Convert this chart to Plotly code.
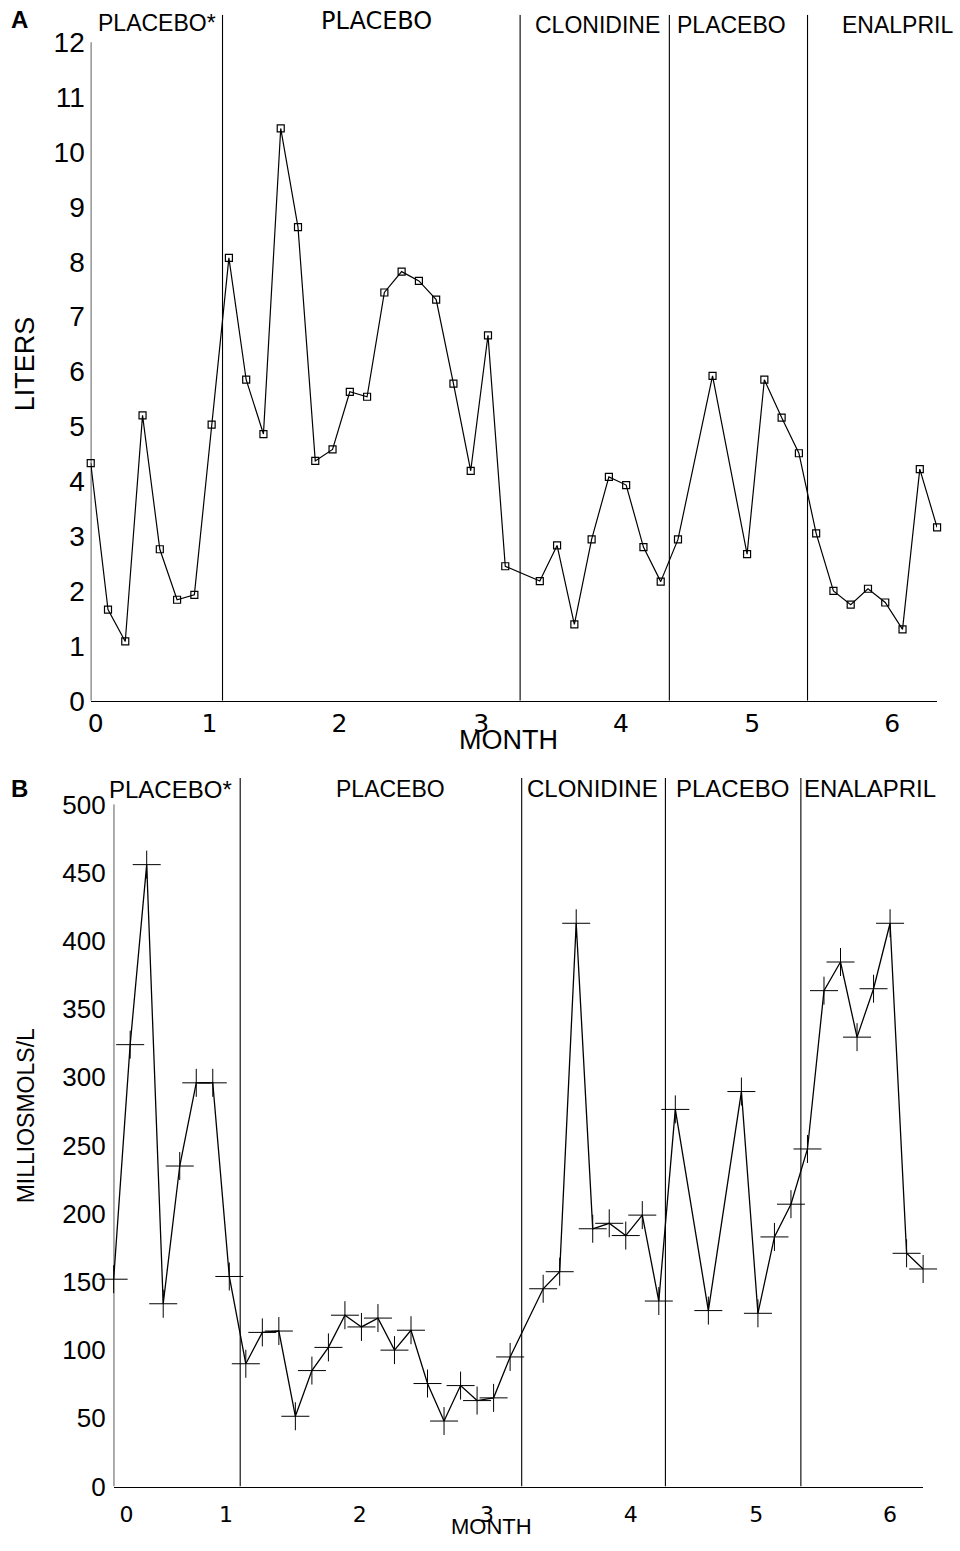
import plotly.graph_objects as go

# ---------------- data ----------------
# sample index along the time axis (a few sampling slots were skipped)
sample_slot = [0, 1, 2, 3, 4, 5, 6, 7, 8, 9, 10, 11, 12, 13, 14, 15, 16, 17, 18, 19, 20, 21, 22, 23, 24,
               26, 27, 28, 29, 30, 31, 32, 33, 34,
               36,
               38, 39, 40, 41, 42, 43, 44, 45, 46, 47, 48, 49]

liters = [4.33, 1.66, 1.08, 5.2, 2.76, 1.84, 1.93, 5.03, 8.07, 5.85, 4.86, 10.43, 8.63, 4.37, 4.58, 5.63,
          5.54, 7.44, 7.82, 7.65, 7.31, 5.78, 4.19, 6.66, 2.45,
          2.18, 2.83, 1.39, 2.94, 4.08, 3.93, 2.8, 2.17, 2.94,
          5.92,
          2.67, 5.85, 5.16, 4.51, 3.05, 2.0, 1.75, 2.04, 1.79, 1.3, 4.22, 3.16]

milliosmols = [152, 324, 456, 134, 235, 296, 296, 154, 90, 113, 114, 51.5, 85, 102, 125.6, 117, 123.5,
               100, 114.6, 75.5, 48, 74, 63, 65, 95,
               145, 157.5, 413, 189, 193, 184, 199, 136, 276.5,
               129,
               289.6, 127, 183, 207, 247.5, 363.6, 384.6, 329.5, 365, 413, 171, 159.5]

# treatment period boundaries (in sample-slot units)
bounds_a = [7.63, 24.86, 33.5, 41.5]
bounds_b = [7.66, 24.7, 33.4, 41.6]

periods_a = ["PLACEBO*", "PLACEBO", "CLONIDINE", "PLACEBO", "ENALPRIL"]
periods_b = ["PLACEBO*", "PLACEBO", "CLONIDINE", "PLACEBO", "ENALAPRIL"]

month_labels = ["0", "1", "2", "3", "4", "5", "6"]
month_pos_a = [0.29, 6.87, 14.4, 22.6, 30.7, 38.3, 46.4]
month_pos_b = [0.78, 6.8, 14.9, 22.6, 31.3, 38.9, 47.0]

liters_ticks = list(range(0, 13))
osm_ticks = [0, 50, 100, 150, 200, 250, 300, 350, 400, 450, 500]

# ---------------- layout helpers ----------------
W, H = 960, 1551


def fx(px):
    return px / W


def fy(py):
    return 1 - py / H


SANS = "Liberation Sans, Arial, sans-serif"
WIDE = "DejaVu Sans, sans-serif"

fig = go.Figure()

fig.add_trace(go.Scatter(
    x=sample_slot, y=liters, mode="lines+markers",
    line=dict(color="black", width=1.2),
    marker=dict(symbol="square-open", size=7, color="black", line=dict(width=1.2)),
    cliponaxis=False, xaxis="x", yaxis="y", showlegend=False))

fig.add_trace(go.Scatter(
    x=sample_slot, y=milliosmols, mode="lines+markers",
    line=dict(color="black", width=1.3),
    marker=dict(symbol="cross-thin", size=20, color="black", line=dict(width=1, color="black")),
    cliponaxis=False, xaxis="x2", yaxis="y2", showlegend=False))

fig.update_layout(
    width=W, height=H, margin=dict(l=0, r=0, t=0, b=0),
    paper_bgcolor="white", plot_bgcolor="white",
    xaxis=dict(domain=[fx(88), fx(937)], range=[0, 49], anchor="y",
               showgrid=False, zeroline=False, showline=True, linecolor="black", linewidth=1.3,
               ticks="", tickmode="array", tickvals=month_pos_a, ticktext=month_labels,
               tickfont=dict(family=WIDE, size=25, color="black"), ticklabelstandoff=0),
    yaxis=dict(domain=[fy(708), fy(15)], range=[0, 12.5], anchor="x",
               showgrid=False, zeroline=False, showline=False,
               ticks="", tickmode="array", tickvals=liters_ticks,
               tickfont=dict(family=SANS, size=28, color="black"), ticklabelstandoff=5),
    xaxis2=dict(domain=[fx(111), fx(923)], range=[0, 49], anchor="y2",
                showgrid=False, zeroline=False, showline=True, linecolor="black", linewidth=1.3,
                ticks="", tickmode="array", tickvals=month_pos_b, ticktext=month_labels,
                tickfont=dict(family=WIDE, size=22, color="black"), ticklabelstandoff=8),
    yaxis2=dict(domain=[fy(1502), fy(786)], range=[0, 519.6], anchor="x2",
                showgrid=False, zeroline=False, showline=False,
                ticks="", tickmode="array", tickvals=osm_ticks,
                tickfont=dict(family=SANS, size=26, color="black"), ticklabelstandoff=7),
)

shapes = []
# left axis lines (only up to the top tick)
shapes.append(dict(type="line", xref="x", yref="y", x0=0, x1=0, y0=0, y1=12,
                   line=dict(color="black", width=1.3)))
shapes.append(dict(type="line", xref="x2", yref="y2", x0=0, x1=0, y0=0, y1=500,
                   line=dict(color="black", width=1.3)))
for b in bounds_a:
    shapes.append(dict(type="line", xref="x", yref="y", x0=b, x1=b, y0=0, y1=12.5,
                       line=dict(color="black", width=1.1)))
for b in bounds_b:
    shapes.append(dict(type="line", xref="x2", yref="y2", x0=b, x1=b, y0=0, y1=519.6,
                       line=dict(color="black", width=1.1)))
fig.update_layout(shapes=shapes)

ann = []


def text(x, y, s, size, family=SANS, xanchor="center", angle=0, bold=False):
    ann.append(dict(x=fx(x), y=fy(y), xref="paper", yref="paper", text=("<b>%s</b>" % s) if bold else s,
                    showarrow=False, xanchor=xanchor, yanchor="middle", textangle=angle,
                    font=dict(family=family, size=size, color="black")))


# panel letters
text(17, 20, "A", 24, bold=True)
text(17, 797, "B", 24, bold=True)

# period headers, panel A
text(154, 23, periods_a[0], 23)
text(375, 21, periods_a[1], 24, family=WIDE)
text(596, 25, periods_a[2], 23)
text(731, 25, periods_a[3], 23)
text(897, 25, periods_a[4], 23)

# period headers, panel B
text(168, 798, periods_b[0], 24)
text(389, 797, periods_b[1], 23)
text(591, 797, periods_b[2], 24)
text(732, 797, periods_b[3], 24)
text(870, 797, periods_b[4], 24)

# axis titles
text(22, 367, "LITERS", 27, angle=-90)
text(507, 748, "MONTH", 27)
text(23, 1127, "MILLIOSMOLS/L", 23, angle=-90)
text(490, 1542, "MONTH", 22)

fig.update_layout(annotations=ann)

# pin the figure to the page origin so the page is exactly one window in size
page_fix = ("var gd=document.getElementById('{plot_id}');"
            "gd.style.position='fixed';gd.style.top='0px';gd.style.left='0px';"
            "document.documentElement.style.margin='0';document.body.style.margin='0';"
            "document.documentElement.style.overflow='hidden';document.body.style.overflow='hidden';")

fig.write_html("out.html", post_script=page_fix, config={"displayModeBar": False})
